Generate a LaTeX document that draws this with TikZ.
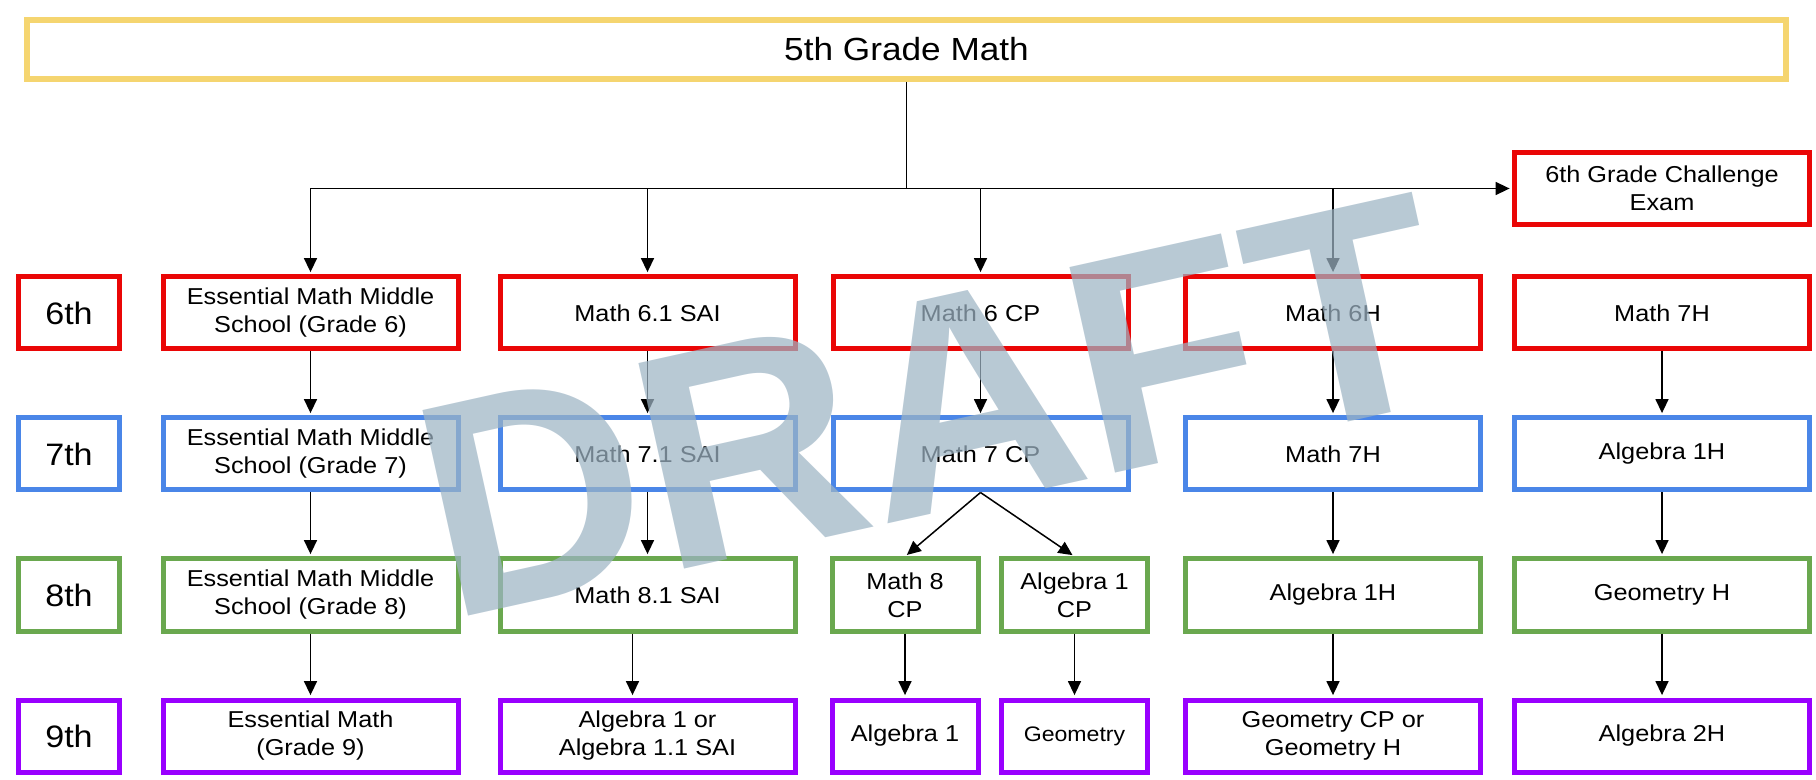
\documentclass[tikz,border=0pt]{standalone}
\usepackage{fontspec}
\setmainfont{Liberation Sans}[FakeStretch=1.1]
\newfontfamily\draftfont{Liberation Sans}
\usetikzlibrary{arrows.meta, positioning}
\definecolor{gradeyellow}{HTML}{F5D570}
\definecolor{gradered}{HTML}{EA0606}
\definecolor{gradeblue}{HTML}{4A86E8}
\definecolor{gradegreen}{HTML}{6AA84F}
\definecolor{gradepurple}{HTML}{9900FF}
\definecolor{draftgrey}{HTML}{9DB4C4}

\begin{document}
\begin{tikzpicture}[x=0.5pt, y=-0.5pt,
    course/.style={draw, line width=2.5pt, minimum width=147.5pt,
                   minimum height=36pt, inner sep=2pt, align=center,
                   font=\fontsize{11.5}{14}\selectfont},
    halfcourse/.style={course, minimum width=73pt},
    gradelabel/.style={draw, line width=2.5pt, minimum width=50.5pt,
                   minimum height=36pt, font=\fontsize{15.5}{18}\selectfont},
    g6/.style={course, draw=gradered},
    g7/.style={course, draw=gradeblue},
    g8/.style={course, draw=gradegreen},
    g9/.style={course, draw=gradepurple},
    link/.style={-{Triangle[length=7pt, width=6.5pt]}, line width=0.75pt,
                 shorten >=1.2pt}]
  \useasboundingbox (0,0) rectangle (1816,780);

  \node[draw=gradeyellow, line width=3pt, minimum width=879.5pt,
        minimum height=29.5pt, font=\fontsize{16}{19}\selectfont]
    (title) at (906.5,49.5) {5th Grade Math};
  \node[g6] (exam) at (1662,188.5) {6th Grade Challenge\\Exam};

  \foreach \g/\y/\c in {6/313/gradered, 7/454/gradeblue,
                        8/595/gradegreen, 9/736/gradepurple}{%
    \node[gradelabel, draw=\c] (lab\g) at (69,\y) {\g th};}

  \node[g6] (em6) at (310.5,313) {Essential Math Middle\\School (Grade 6)};
  \node[g6] (sai6) at (647.5,313) {Math 6.1 SAI};
  \node[g6] (cp6) at (980.5,313) {Math 6 CP};
  \node[g6] (hon6) at (1333,313) {Math 6H};
  \node[g6] (acc6) at (1662,313) {Math 7H};

  \node[g7] (em7) at (310.5,454) {Essential Math Middle\\School (Grade 7)};
  \node[g7] (sai7) at (647.5,454) {Math 7.1 SAI};
  \node[g7] (cp7) at (980.5,454) {Math 7 CP};
  \node[g7] (hon7) at (1333,454) {Math 7H};
  \node[g7] (acc7) at (1662,454) {Algebra 1H};

  \node[g8] (em8) at (310.5,595) {Essential Math Middle\\School (Grade 8)};
  \node[g8] (sai8) at (647.5,595) {Math 8.1 SAI};
  \node[g8, halfcourse] (cp8a) at (905,595) {Math 8\\CP};
  \node[g8, halfcourse] (cp8b) at (1074.5,595) {Algebra 1\\CP};
  \node[g8] (hon8) at (1333,595) {Algebra 1H};
  \node[g8] (acc8) at (1662,595) {Geometry H};

  \node[g9] (em9) at (310.5,736) {Essential Math\\(Grade 9)};
  \node[g9] (sai9) at (647.5,736) {Algebra 1 or\\Algebra 1.1 SAI};
  \node[g9, halfcourse] (cp9a) at (905,736) {Algebra 1};
  \node[g9, halfcourse, font=\fontsize{10.5}{13}\selectfont]
    (cp9b) at (1074.5,736) {Geometry};
  \node[g9] (hon9) at (1333,736) {Geometry CP or\\Geometry H};
  \node[g9] (acc9) at (1662,736) {Algebra 2H};

  \coordinate (hub) at (title.south |- exam.west);
  \draw[line width=0.75pt] (title.south) -- (hub);
  \draw[link] (em6.north |- hub) -- (exam.west);
  \foreach \n in {em6, sai6, cp6, hon6}
    \draw[link] (\n.north |- hub) -- (\n.north);
  \foreach \a/\b in {em6/em7, em7/em8, em8/em9, sai6/sai7, sai7/sai8,
                     cp6/cp7, cp7/cp8a, cp7/cp8b, cp8a/cp9a,
                     cp8b/cp9b, hon6/hon7, hon7/hon8, hon8/hon9,
                     acc6/acc7, acc7/acc8, acc8/acc9}
    \draw[link] (\a.south) -- (\b.north);
  \draw[link] ([xshift=-7.5pt]sai8.south) -- ([xshift=-7.5pt]sai9.north);

  \node[rotate=12.5, text=draftgrey, opacity=0.72, inner sep=0pt,
        font=\draftfont\bfseries\fontsize{153}{153}\selectfont]
    (draft) at (932,406) {DRAFT};
\end{tikzpicture}
\end{document}
